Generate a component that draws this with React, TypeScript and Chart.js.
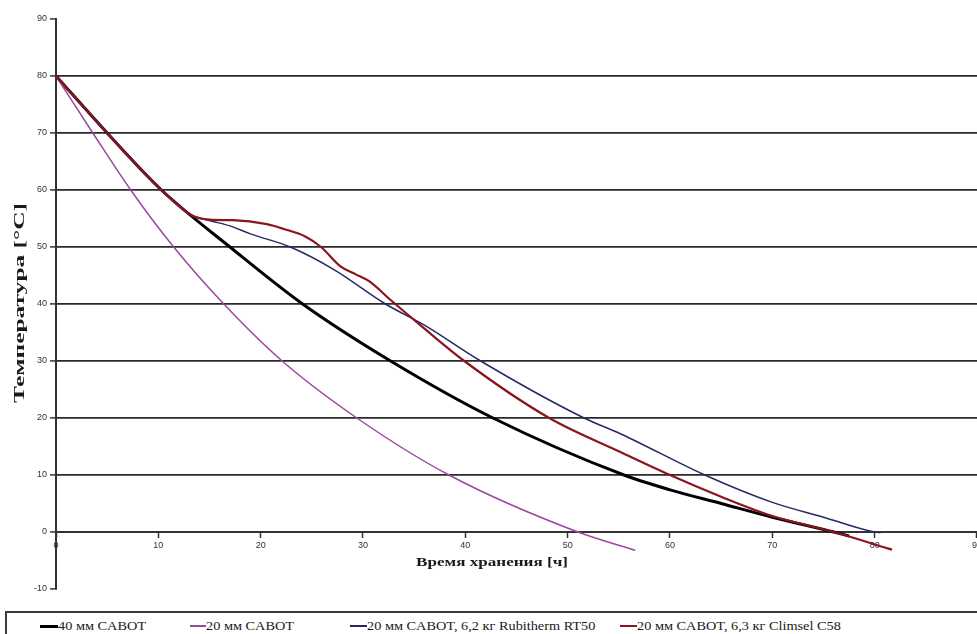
import React, { useEffect, useRef } from "react";
import { Chart, registerables } from "chart.js";

Chart.register(...registerables);

// ---- Data ----
const seriesNames = [
  "40 мм CABOT",
  "20 мм CABOT",
  "20 мм CABOT, 6,2 кг Rubitherm RT50",
  "20 мм CABOT, 6,3 кг Climsel C58",
];

const xTitle = "Время хранения [ч]";
const yTitle = "Температура [°C]";

const xTicks = [0, 10, 20, 30, 40, 50, 60, 70, 80, 90];
const yTicks = [-10, 0, 10, 20, 30, 40, 50, 60, 70, 80, 90];

const cabot40X = [0, 5, 10.3, 17, 24.1, 32.7, 42.7, 55.5, 60, 65, 70, 76, 77.5];
const cabot40Y = [80, 70, 60, 50, 40, 30, 20, 10, 7.4, 5.0, 2.6, 0, -0.7];

const cabot20X = [0, 3.6, 7.3, 11.5, 16.4, 22.1, 29.4, 38.4, 51, 56.6];
const cabot20Y = [80, 70, 60, 50, 40, 30, 20, 10, 0, -3.2];

const rubithermX = [0, 5, 10.3, 13.3, 15.1, 17, 19, 22.9, 27.2, 32.2, 36, 41.5, 51.6, 55.2, 63.4, 70, 75, 80, 80.6];
const rubithermY = [80, 70, 60, 55.6, 54.6, 53.7, 52.3, 50, 46.0, 40, 36.3, 30, 20, 17.2, 10, 5.2, 2.6, 0, -0.1];

const climselX = [0, 5, 10.3, 13.2, 15, 17.3, 20.6, 22.2, 24.4, 25.9, 27.8, 29.3, 30.6, 32.7, 35.6, 39.9, 48.2, 55.2, 60, 65, 70, 76, 81.7];
const climselY = [80, 70, 60, 55.6, 54.8, 54.7, 54, 53.2, 51.8, 50, 46.6, 45.2, 44.0, 40.7, 36.3, 30, 20, 14, 10, 6.2, 2.8, 0, -3.1];

// ---- Styles ----
const seriesColors = ["#000000", "#9a4a9e", "#232a66", "#8a1420"];
const seriesWidths = [3, 1.5, 1.5, 2.2];

const toPoints = (xs: number[], ys: number[]) => xs.map((x, i) => ({ x, y: ys[i] }));

const titlePlugin = {
  id: "stretchedTitles",
  afterDraw(chart: any) {
    const ctx = chart.ctx as CanvasRenderingContext2D;
    ctx.save();
    ctx.fillStyle = "#1a1a1a";
    ctx.font = 'bold 13px "Liberation Serif", "Times New Roman", serif';
    ctx.textAlign = "center";
    ctx.textBaseline = "middle";
    const wx = ctx.measureText(xTitle).width;
    ctx.translate(492, 563);
    ctx.scale(152 / wx, 1);
    ctx.fillText(xTitle, 0, 0);
    ctx.restore();

    ctx.save();
    ctx.fillStyle = "#1a1a1a";
    ctx.font = 'bold 14px "Liberation Serif", "Times New Roman", serif';
    ctx.textAlign = "center";
    ctx.textBaseline = "middle";
    const wy = ctx.measureText(yTitle).width;
    ctx.translate(20, 303);
    ctx.rotate(-Math.PI / 2);
    ctx.scale(200 / wy, 1);
    ctx.fillText(yTitle, 0, 0);
    ctx.restore();
  },
};

export default function App() {
  const canvasRef = useRef<HTMLCanvasElement | null>(null);

  useEffect(() => {
    if (!canvasRef.current) return;
    const datasets = [
      toPoints(cabot40X, cabot40Y),
      toPoints(cabot20X, cabot20Y),
      toPoints(rubithermX, rubithermY),
      toPoints(climselX, climselY),
    ].map((data, i) => ({
      label: seriesNames[i],
      data,
      borderColor: seriesColors[i],
      backgroundColor: seriesColors[i],
      borderWidth: seriesWidths[i],
      pointRadius: 0,
      pointHoverRadius: 0,
      fill: false,
      cubicInterpolationMode: "monotone" as const,
      order: i === 0 ? 3 : i === 1 ? 2 : i === 2 ? 1 : 0,
    }));

    const chart = new Chart(canvasRef.current, {
      type: "line",
      data: { datasets },
      plugins: [titlePlugin],
      options: {
        animation: false,
        responsive: false,
        maintainAspectRatio: false,
        layout: { padding: { top: 19, left: 0, right: 2, bottom: 16 } },
        plugins: {
          legend: { display: false },
          tooltip: { enabled: false },
          title: { display: false },
        },
        scales: {
          x: {
            type: "linear",
            min: 0,
            max: 90,
            position: { y: 0 } as any,
            afterBuildTicks: (s: any) => {
              s.ticks = xTicks.map((v) => ({ value: v }));
            },
            ticks: {
              autoSkip: false,
              maxRotation: 0,
              color: "#333",
              padding: 3,
              font: { family: '"Liberation Sans", Arial, sans-serif', size: 9 },
            },
            grid: {
              color: "rgba(0,0,0,0)",
              drawTicks: true,
              tickLength: 5,
              tickColor: "#333",
              tickWidth: 1.5,
            },
            border: { display: true, color: "#333", width: 2 },
          },
          y: {
            type: "linear",
            min: -10,
            max: 90,
            afterBuildTicks: (s: any) => {
              s.ticks = yTicks.map((v) => ({ value: v }));
            },
            afterFit: (s: any) => {
              s.width = 56;
            },
            ticks: {
              autoSkip: false,
              color: "#333",
              padding: 3,
              font: { family: '"Liberation Sans", Arial, sans-serif', size: 9 },
            },
            grid: {
              color: (c: any) =>
                c.tick && (c.tick.value === 90 || c.tick.value === -10) ? "rgba(0,0,0,0)" : "#2a2a2a",
              lineWidth: 1.8,
              drawTicks: true,
              tickLength: 6,
              tickColor: "#333",
              tickWidth: 1.5,
            },
            border: { display: true, color: "#333", width: 2 },
          },
        },
      },
    });
    return () => chart.destroy();
  }, []);

  const legendLayout = [
    { lineX: 40, textX: 58 },
    { lineX: 190, textX: 206 },
    { lineX: 350, textX: 367 },
    { lineX: 620, textX: 637 },
  ];

  return (
    <div
      style={{
        position: "absolute",
        left: 0,
        top: 0,
        width: 977,
        height: 634,
        overflow: "hidden",
        background: "#fff",
      }}
    >
      <canvas ref={canvasRef} width={985} height={605} style={{ position: "absolute", left: 0, top: 0 }} />
      <div
        style={{
          position: "absolute",
          left: 5,
          top: 611,
          width: 1000,
          height: 40,
          border: "2px solid #3a3a3a",
          boxSizing: "border-box",
        }}
      />
      {seriesNames.map((name, i) => (
        <React.Fragment key={name}>
          <div
            style={{
              position: "absolute",
              left: legendLayout[i].lineX,
              top: 626 - seriesWidths[i] / 2,
              width: legendLayout[i].textX - legendLayout[i].lineX,
              height: seriesWidths[i] + (i === 0 ? 0.5 : 0),
              background: seriesColors[i],
            }}
          />
          <div
            style={{
              position: "absolute",
              left: legendLayout[i].textX,
              top: 618,
              fontFamily: '"Liberation Serif", "Times New Roman", serif',
              fontSize: 13,
              lineHeight: "16px",
              color: "#1a1a1a",
              whiteSpace: "nowrap",
              transform: "scaleX(1.1)",
              transformOrigin: "left center",
            }}
          >
            {name}
          </div>
        </React.Fragment>
      ))}
    </div>
  );
}
